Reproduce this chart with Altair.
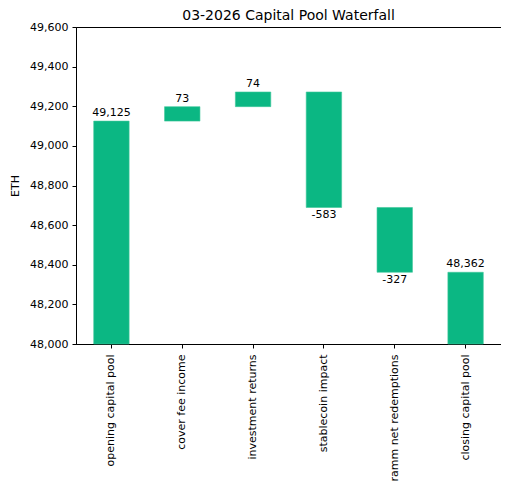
import altair as alt
import pandas as pd

categories = ["opening capital pool", "cover fee income", "investment returns",
              "stablecoin impact", "ramm net redemptions", "closing capital pool"]
amounts = [49125, 73, 74, -583, -327, 48362]
kinds = ["total", "delta", "delta", "delta", "delta", "total"]
y_ticks = [48000, 48200, 48400, 48600, 48800, 49000, 49200, 49400, 49600]

rows = []
running = 0
for c, a, k in zip(categories, amounts, kinds):
    if k == "total":
        lo, hi = 48000, a
        running = a
        pos = "up"
    else:
        lo, hi = running, running + a
        running += a
        pos = "up" if a >= 0 else "down"
    rows.append({"cat": c, "y0": min(lo, hi), "y1": max(lo, hi), "label": f"{a:,}",
                 "ly": max(lo, hi) if pos == "up" else min(lo, hi), "pos": pos})
df = pd.DataFrame(rows)

FONT = "DejaVu Sans"
FS = 11
xaxis = alt.Axis(labelAngle=270, labelAlign="right", labelBaseline="middle",
                 labelFontSize=FS, labelColor="black", domainColor="black",
                 tickColor="black", tickSize=4, labelPadding=6, labelFont=FONT,
                 labelOverlap=False, labelLimit=300, title=None)
yaxis = alt.Axis(values=y_ticks, format=",.0f", grid=False, labelFontSize=FS,
                 labelColor="black", domainColor="black", tickColor="black",
                 tickSize=4, titleFontSize=FS, titleFontWeight="normal",
                 titleColor="black", labelFont=FONT, titleFont=FONT,
                 titlePadding=9, labelPadding=4, labelOverlap=False,
                 labelFlush=False, title="ETH")
xscale = alt.Scale(paddingInner=0.5, paddingOuter=0.25)
yscale = alt.Scale(domain=[48000, 49600], nice=False, zero=False)

bars = alt.Chart(df).mark_bar(color="#0bb783", stroke="#3fc79b", strokeWidth=0.6).encode(
    x=alt.X("cat:N", sort=categories, scale=xscale, axis=xaxis, title=None),
    y=alt.Y("y0:Q", scale=yscale, axis=yaxis, title="ETH"),
    y2="y1:Q",
)

up = alt.Chart(df).transform_filter(alt.datum.pos == "up").mark_text(
    baseline="bottom", dy=-3, fontSize=FS, font=FONT, color="black").encode(
    x=alt.X("cat:N", sort=categories, scale=xscale, axis=xaxis, title=None),
    y=alt.Y("ly:Q", scale=yscale, axis=yaxis, title="ETH"), text="label:N")
down = alt.Chart(df).transform_filter(alt.datum.pos == "down").mark_text(
    baseline="top", dy=2, fontSize=FS, font=FONT, color="black").encode(
    x=alt.X("cat:N", sort=categories, scale=xscale, axis=xaxis, title=None),
    y=alt.Y("ly:Q", scale=yscale, axis=yaxis, title="ETH"), text="label:N")

chart = alt.layer(bars, up, down).properties(
    width=425, height=317,
    title=alt.Title("03-2026 Capital Pool Waterfall", fontSize=14, font=FONT,
                    fontWeight="normal", color="black", offset=0, dy=2),
    autosize=alt.AutoSizeParams(type="none"),
    padding={"left": 68, "top": 19, "right": 0, "bottom": 140},
).configure_view(stroke="black", strokeWidth=1)

chart.save("out.html", embed_options={"renderer": "svg", "actions": False})
